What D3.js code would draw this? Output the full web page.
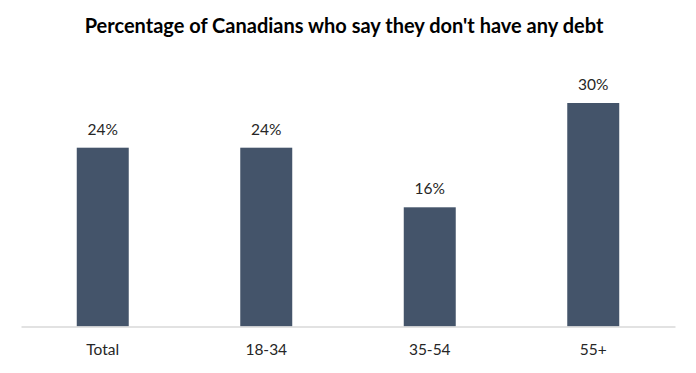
<!DOCTYPE html>
<html>
<head>
    <title>Canadians without debt</title>
    <script src="https://d3js.org/d3.v7.min.js"></script>
    <style type="text/css">
        body { margin: 0; background: #fff; }
        text { font-family: Lato, "Open Sans", sans-serif; fill: #262626; }
    </style>
</head>
<body>
<div id="chart"></div>
<script type="text/javascript">
    const categories = ["Total", "18-34", "35-54", "55+"];
    const values = [24, 24, 16, 30];
    const title = "Percentage of Canadians who say they don't have any debt";

    const width = 696, height = 373;
    const baseline = 326.5;

    const svg = d3.select("#chart").append("svg")
        .attr("width", width)
        .attr("height", height);

    const x = d3.scaleBand()
        .domain(categories)
        .range([21, 675])
        .padding(0);

    const y = d3.scaleLinear()
        .domain([0, 30])
        .range([baseline, 103]);

    const barW = x.bandwidth() * 0.318;

    svg.append("text")
        .attr("x", 344)
        .attr("y", 33)
        .attr("text-anchor", "middle")
        .attr("font-size", 20)
        .attr("font-weight", "bold")
        .style("fill", "#000")
        .text(title);

    svg.append("g")
        .selectAll("rect")
        .data(values)
        .join("rect")
        .attr("x", (d, i) => x(categories[i]) + x.bandwidth() / 2 - barW / 2)
        .attr("y", d => y(d))
        .attr("width", barW)
        .attr("height", d => baseline - y(d))
        .attr("fill", "#44546a");

    svg.append("g")
        .selectAll("text")
        .data(values)
        .join("text")
        .attr("x", (d, i) => x(categories[i]) + x.bandwidth() / 2)
        .attr("y", d => y(d) - 13)
        .attr("text-anchor", "middle")
        .attr("font-size", 15.5)
        .text(d => d + "%");

    const axis = svg.append("g")
        .attr("transform", `translate(0,${baseline})`)
        .call(d3.axisBottom(x).tickSize(0));
    axis.select(".domain").attr("stroke", "#d9d9d9").attr("stroke-width", 1.5);
    axis.selectAll(".tick text")
        .attr("y", 28.5)
        .attr("dy", 0)
        .attr("font-size", 15.5)
        .style("font-family", "Lato, 'Open Sans', sans-serif")
        .style("fill", "#262626");
</script>
</body>
</html>
